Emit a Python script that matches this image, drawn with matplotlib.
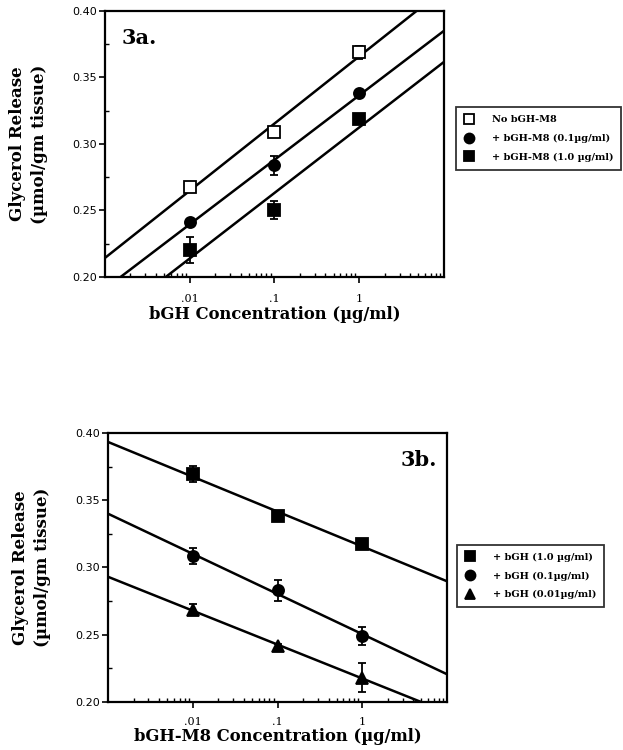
import numpy as np
import matplotlib
matplotlib.use("Agg")
import matplotlib.pyplot as plt
from matplotlib.ticker import FixedLocator, LogLocator, NullFormatter, MultipleLocator

# ---- data ----
conc = [0.01, 0.1, 1.0]

# Fig 3a: glycerol release vs bGH concentration
a_labels = ["No bGH-M8", "+ bGH-M8 (0.1\u00b5g/ml)", "+ bGH-M8 (1.0 \u00b5g/ml)"]
a_none = [0.268, 0.309, 0.369]
a_none_err = [0.003, 0.003, 0.005]
a_m8_01 = [0.2416, 0.284, 0.3386]
a_m8_01_err = [0.002, 0.007, 0.002]
a_m8_10 = [0.2203, 0.2504, 0.3188]
a_m8_10_err = [0.010, 0.007, 0.003]

# Fig 3b: glycerol release vs bGH-M8 concentration
b_labels = ["+ bGH (1.0 \u00b5g/ml)", "+ bGH (0.1\u00b5g/ml)", "+ bGH (0.01\u00b5g/ml)"]
b_gh_10 = [0.3694, 0.338, 0.3175]
b_gh_10_err = [0.006, 0.002, 0.002]
b_gh_01 = [0.3088, 0.283, 0.249]
b_gh_01_err = [0.006, 0.008, 0.007]
b_gh_001 = [0.2685, 0.2412, 0.218]
b_gh_001_err = [0.004, 0.002, 0.011]

xticks = [0.01, 0.1, 1]
xticklabels = [".01", ".1", "1"]
yticks = [0.20, 0.25, 0.30, 0.35, 0.40]
yticklabels = ["0.20", "0.25", "0.30", "0.35", "0.40"]

SERIF = "DejaVu Serif"

fig = plt.figure(figsize=(6.23, 7.5), dpi=100)
ax1 = fig.add_axes([0.1685, 0.6307, 0.5441, 0.3547])
ax2 = fig.add_axes([0.1734, 0.0644, 0.5441, 0.3579])

xfit = np.logspace(-3, 1, 200)


def series(ax, y, err, marker, face, label):
    coef = np.polyfit(np.log10(conc), y, 1)
    ax.plot(xfit, np.polyval(coef, np.log10(xfit)), color="black", lw=1.8, zorder=2)
    h = ax.errorbar(conc, y, yerr=err, fmt=marker, ms=8, mfc=face, mec="black",
                    mew=1.3, ecolor="black", elinewidth=1.3, capsize=3, capthick=1.3,
                    zorder=3, label=label)
    return h


def style(ax, xlabel, xpad, lpad):
    ax.set_xscale("log")
    ax.set_xlim(0.001, 10)
    ax.set_ylim(0.20, 0.40)
    ax.xaxis.set_major_locator(FixedLocator(xticks))
    ax.set_xticklabels(xticklabels, fontfamily=SERIF, fontsize=8)
    ax.xaxis.set_minor_locator(LogLocator(base=10, subs=np.arange(2, 10)))
    ax.xaxis.set_minor_formatter(NullFormatter())
    ax.yaxis.set_major_locator(FixedLocator(yticks))
    ax.set_yticklabels(yticklabels, fontfamily="DejaVu Sans", fontsize=8)
    ax.yaxis.set_minor_locator(MultipleLocator(0.025))
    ax.tick_params(which="major", direction="out", length=4, width=1.2, pad=2)
    ax.tick_params(axis="x", which="major", pad=xpad)
    ax.tick_params(which="minor", direction="in", length=3, width=1.0)
    for s in ax.spines.values():
        s.set_linewidth(1.6)
    ax.set_xlabel(xlabel, fontfamily=SERIF, fontweight="bold", fontsize=11.8, labelpad=lpad)
    ax.set_ylabel("Glycerol Release\n(\u00b5mol/gm tissue)", fontfamily=SERIF,
                  fontweight="bold", fontsize=12, linespacing=1.35)
    ax.yaxis.label.set_va("center")
    ax.yaxis.set_label_coords(-76.5 / 339.0, 0.5)


h1 = series(ax1, a_none, a_none_err, "s", "white", a_labels[0])
h2 = series(ax1, a_m8_01, a_m8_01_err, "o", "black", a_labels[1])
h3 = series(ax1, a_m8_10, a_m8_10_err, "s", "black", a_labels[2])
style(ax1, "bGH Concentration (\u00b5g/ml)", 8, 2)
ax1.text(0.05, 0.90, "3a.", transform=ax1.transAxes, fontfamily=SERIF,
         fontweight="bold", fontsize=15, ha="left", va="center")

g1 = series(ax2, b_gh_10, b_gh_10_err, "s", "black", b_labels[0])
g2 = series(ax2, b_gh_01, b_gh_01_err, "o", "black", b_labels[1])
g3 = series(ax2, b_gh_001, b_gh_001_err, "^", "black", b_labels[2])
style(ax2, "bGH-M8 Concentration (\u00b5g/ml)", 7, 0.5)
ax2.text(0.97, 0.90, "3b.", transform=ax2.transAxes, fontfamily=SERIF,
         fontweight="bold", fontsize=15, ha="right", va="center")


def make_legend(handles, labels, anchor):
    hs = [h[0] for h in handles]
    leg = fig.legend(hs, labels, loc="center left", bbox_to_anchor=anchor,
                     frameon=True, fancybox=False, edgecolor="black",
                     prop={"family": SERIF, "size": 7, "weight": "bold"},
                     handlelength=1.0, handletextpad=1.9, borderpad=0.8,
                     labelspacing=1.0, markerscale=0.9, borderaxespad=0)
    leg.get_frame().set_linewidth(1.3)
    return leg


make_legend([h1, h2, h3], a_labels, (0.732, 0.8153))
make_legend([g1, g2, g3], b_labels, (0.7335, 0.232))

fig.savefig("out.png", dpi=100)
